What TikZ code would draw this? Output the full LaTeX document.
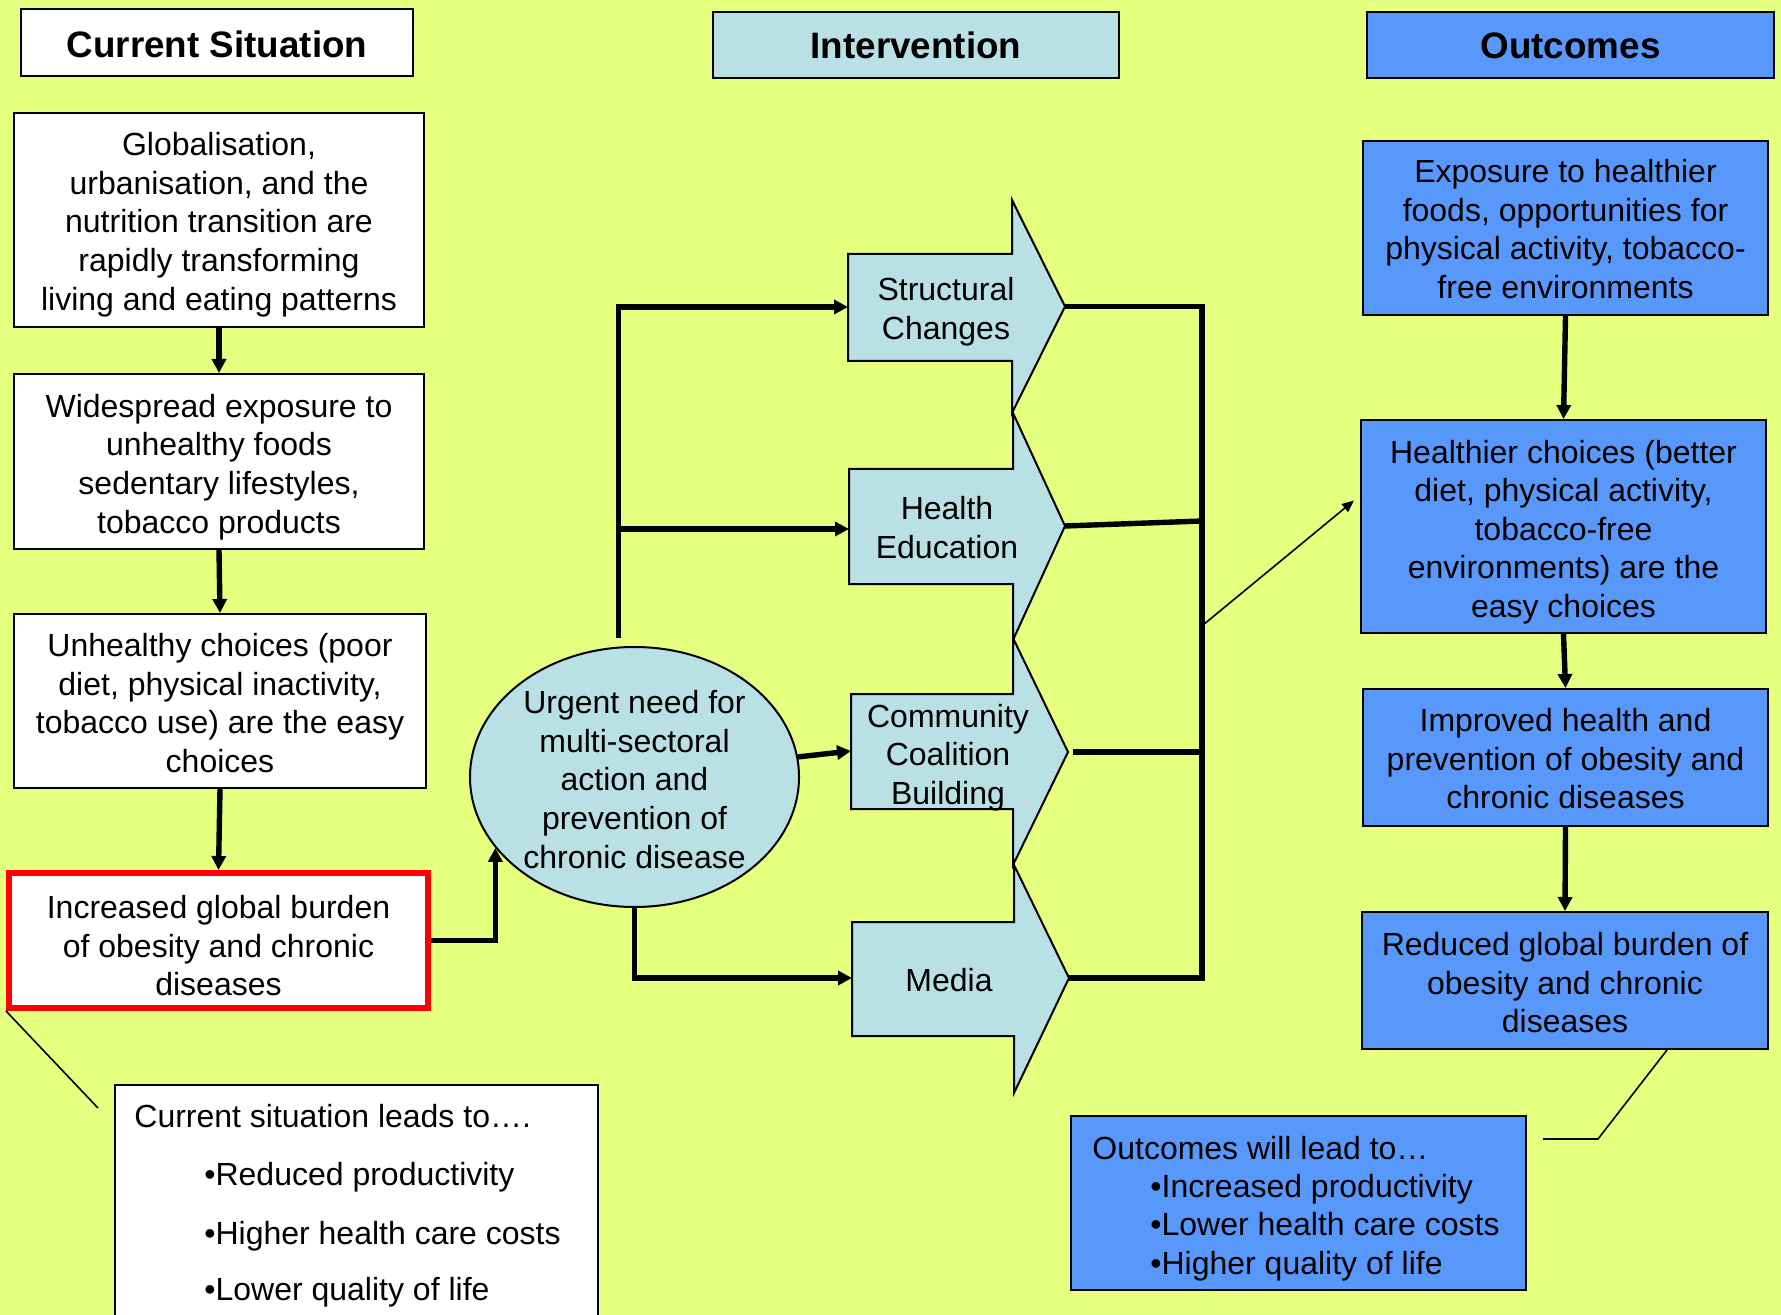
\documentclass[tikz,border=0pt]{standalone}
\usepackage{fontspec}
\setmainfont{Liberation Sans}
\usetikzlibrary{arrows.meta,shapes.geometric}
\definecolor{bg}{RGB}{229,255,127}
\definecolor{lblue}{RGB}{185,224,228}
\definecolor{oblue}{RGB}{88,152,250}
\definecolor{redb}{RGB}{255,0,0}
\begin{document}
\begin{tikzpicture}[x=0.5pt,y=-0.5pt,
  txt/.style={font=\fontsize{16}{19.3}\selectfont, align=center, inner sep=0},
  hdrt/.style={font=\bfseries\fontsize{18.4}{22}\selectfont, inner sep=0},
  hdr/.style={draw, line width=1pt, inner sep=0},
  wbox/.style={draw, fill=white, line width=1pt, inner sep=0},
  bbox/.style={draw, fill=oblue, line width=1pt, inner sep=0},
  iarrow/.style={draw, fill=lblue, line width=1pt, line join=miter},
  conn/.style={line width=2.7pt, -{Triangle[length=7pt,width=7pt]}},
  bar/.style={line width=2.7pt},
  thinl/.style={line width=0.8pt},
  lab/.style={font=\fontsize{16}{19.3}\selectfont, anchor=base west, inner sep=0}
]
\fill[bg] (0,0) rectangle (1781,1315);
\useasboundingbox (0,0) rectangle (1781,1315);
\clip (0,0) rectangle (1781,1315);

% headers
\node[hdr, fill=white, minimum width=196pt, minimum height=33.5pt] (hcur) at (217,42.5) {};
\node[hdr, fill=lblue, minimum width=203pt, minimum height=33pt] (hint) at (916,45) {};
\node[hdr, fill=oblue, minimum width=203.5pt, minimum height=33pt] (hout) at (1570.5,45) {};
\node[hdrt] (hcurt) at ([yshift=-1pt]hcur.center) {Current Situation};
\node[hdrt] (hintt) at ([yshift=-0.3pt]hint.center) {Intervention};
\node[hdrt] (houtt) at ([yshift=-0.6pt]hout.center) {Outcomes};

% left column
\node[wbox, minimum width=205pt, minimum height=107pt] (l1) at (219,220) {};
\node[wbox, minimum width=205pt, minimum height=87.5pt] (l2) at (219,461.5) {};
\node[wbox, minimum width=206pt, minimum height=87pt] (l3) at (220,701) {};
\node[wbox, draw=redb, line width=3pt, minimum width=209.5pt, minimum height=67.5pt] (red) at (218.5,940.5) {};
\node[txt] (l1t) at ([yshift=-2.3pt]l1.center) {Globalisation,\\urbanisation, and the\\nutrition transition are\\rapidly transforming\\living and eating patterns};
\node[txt] (l2t) at ([yshift=-2.7pt]l2.center) {Widespread exposure to\\unhealthy foods\\sedentary lifestyles,\\tobacco products};
\node[txt] (l3t) at ([yshift=-1pt]l3.center) {Unhealthy choices (poor\\diet, physical inactivity,\\tobacco use) are the easy\\choices};
\node[txt] (redt) at ([yshift=-2.7pt]red.center) {Increased global burden\\of obesity and chronic\\diseases};

\draw[conn] (l1.south) -- (l2.north);
\draw[conn] (l2.south) -- (l3.north);
\draw[conn] (l3.south) -- (red.north);

% callout left
\node[draw, fill=white, line width=1pt, minimum width=241.5pt, minimum height=125pt, anchor=north west, inner sep=0] (cl) at (114,1084) {};
\node[lab] (clt) at (134,1127) {Current situation leads to….};
\node[lab] (cl1) at (204,1185) {•Reduced productivity};
\node[lab] (cl2) at (204,1244) {•Higher health care costs};
\node[lab] (cl3) at (204,1300) {•Lower quality of life};
\coordinate (clend) at (98,1108);
\draw[thinl] (red.south west) -- (clend);

% ellipse
\node[ellipse, draw, fill=lblue, line width=1pt, minimum width=164.5pt, minimum height=130pt, inner sep=0] (ell) at (634.5,777) {};
\node[txt] (ellt) at ([yshift=-1.2pt]ell.center) {Urgent need for\\multi-sectoral\\action and\\prevention of\\chronic disease};
\draw[conn] (red.east) -| (ell.207);

% intervention block arrows
\draw[iarrow] (848,254) -- (1012,254) -- (1012,200) -- (1065,306.5) -- (1012,413) -- (1012,361) -- (848,361) -- cycle;
\draw[iarrow] (849,469) -- (1013,469) -- (1013,413) -- (1065,526) -- (1013,640) -- (1013,584) -- (849,584) -- cycle;
\draw[iarrow] (851,694) -- (1013,694) -- (1013,638) -- (1068,752) -- (1013,865) -- (1013,809) -- (851,809) -- cycle;
\draw[iarrow] (852,922) -- (1014,922) -- (1014,865) -- (1069,978) -- (1014,1093) -- (1014,1036) -- (852,1036) -- cycle;
\node[txt] (sc) at (946,311.5) {Structural\\Changes};
\node[txt] (he) at (947,527.5) {Health\\Education};
\node[txt] (cc) at (948,757.5) {Community\\Coalition\\Building};
\node[txt] (me) at (949,980) {Media};

\coordinate (scin) at (848,307);
\coordinate (hein) at (849,529);
\coordinate (ccin) at (851,751);
\coordinate (mein) at (852,978);
\coordinate (sctip) at (1065,306.5);
\coordinate (hetip) at (1065,526);
\coordinate (cctip) at (1073,752);
\coordinate (metip) at (1069,978);
\coordinate (j1) at (618.5,529);

\draw[conn] ([xshift=-8pt,yshift=4pt]ell.north) |- (scin);
\draw[conn] (j1) -- (hein);
\draw[conn] (ell.7) -- (ccin);
\draw[conn] (ell.south) |- (mein);

% bus on right
\coordinate (bustop) at (1202,306.5);
\coordinate (busbot) at (1202,978);
\coordinate (bush) at (1202,521);
\coordinate (busc) at (1202,752);
\coordinate (busa) at (1203,625);
\draw[bar, line join=miter] (sctip) -- (bustop) -- (busbot) -- (metip);
\draw[bar] (hetip) -- (bush);
\draw[bar] (cctip) -- (busc);

% outcomes column
\node[bbox, minimum width=202.5pt, minimum height=87pt] (ex) at (1565.5,228) {};
\node[bbox, minimum width=202.5pt, minimum height=106.5pt] (hc) at (1563.5,526.5) {};
\node[bbox, minimum width=202.5pt, minimum height=68.5pt] (im) at (1565.5,757.5) {};
\node[bbox, minimum width=203pt, minimum height=68.5pt] (rd) at (1565,980.5) {};
\node[txt] (ext) at ([yshift=-0.6pt]ex.center) {Exposure to healthier\\foods, opportunities for\\physical activity, tobacco-\\free environments};
\node[txt] (hct) at ([yshift=-2.8pt]hc.center) {Healthier choices (better\\diet, physical activity,\\tobacco-free\\environments) are the\\easy choices};
\node[txt] (imt) at ([yshift=-0.6pt]im.center) {Improved health and\\prevention of obesity and\\chronic diseases};
\node[txt] (rdt) at ([yshift=-1.1pt]rd.center) {Reduced global burden of\\obesity and chronic\\diseases};

\draw[thinl, -{Triangle[length=6pt,width=5pt]}] (busa) -- ([xshift=-3pt,yshift=13pt]hc.west);
\draw[conn] (ex.south) -- (hc.north);
\draw[conn] (hc.south) -- (im.north);
\draw[conn] (im.south) -- (rd.north);

% callout right
\node[draw, fill=oblue, line width=1pt, minimum width=227.5pt, minimum height=87pt, inner sep=0] (co) at (1298.5,1203) {};
\node[lab] (cot) at (1092,1159.5) {Outcomes will lead to…};
\node[lab] (co1) at (1150,1197.5) {•Increased productivity};
\node[lab] (co2) at (1150,1235.5) {•Lower health care costs};
\node[lab] (co3) at (1150,1274.5) {•Higher quality of life};
\coordinate (cobend) at (1598,1139);
\coordinate (coend) at (1543,1139);
\draw[thinl] ([xshift=51pt]rd.south) -- (cobend) -- (coend);
\end{tikzpicture}
\end{document}
